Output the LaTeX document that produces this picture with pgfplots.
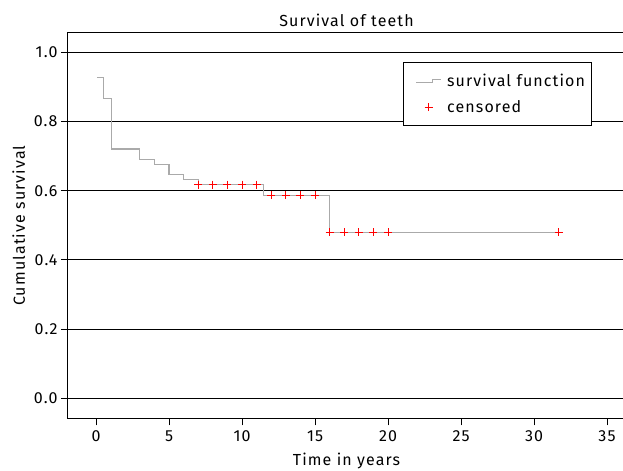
\documentclass[border=0pt]{standalone}
\usepackage{fontspec}
\setmainfont{Fira Sans}[LetterSpace=7]
\usepackage{pgfplots}
\pgfplotsset{compat=1.18}
\definecolor{survgray}{RGB}{170,170,170}
\begin{document}
\begin{tikzpicture}
\begin{axis}[
  scale only axis,
  width=557pt, height=385.3pt,
  xmin=-1.92, xmax=36.23,
  ymin=-0.058, ymax=1.056,
  font=\fontsize{16}{19}\selectfont,
  /pgf/number format/assume math mode=true,
  xtick={0,5,...,35},
  ytick={0,0.2,0.4,0.6,0.8,1.0},
  yticklabel style={/pgf/number format/fixed, /pgf/number format/fixed zerofill, /pgf/number format/precision=1},
  xticklabel style={yshift=-1.5pt},
  tick align=outside,
  major tick length=7pt,
  tick style={black, line width=0.9pt},
  xtick pos=bottom, ytick pos=left,
  axis line style={black, line width=1pt},
  ymajorgrids,
  grid style={black, line width=0.9pt},
  title={Survival of teeth},
  title style={yshift=-3pt},
  xlabel={Time in years},
  ylabel={Cumulative survival},
  xlabel style={yshift=-5pt},
  ylabel style={yshift=2pt},
  legend style={at={(rel axis cs:0.601,0.925)}, anchor=north west, draw=black, line width=0.8pt, fill=white,
    font=\fontsize{16}{19}\selectfont, inner xsep=4pt, inner ysep=10pt, row sep=8pt},
  legend cell align=left,
]
\addplot[survgray, line width=1.1pt, const plot, forget plot] coordinates {
(0.05,0.927) (0.5,0.867) (1.03,0.7205) (3,0.691) (4,0.676) (5,0.647) (6,0.633) (7,0.6176) (11.5,0.5867) (16,0.4798) (31.7,0.4798)
};
\addlegendimage{survgray, line width=1pt, legend image code/.code={\path (-0.3cm,0) (1.0cm,0); \draw[survgray, line width=1pt] (0cm,-0.06cm) -- (0.58cm,-0.06cm) -- (0.58cm,0.06cm) -- (0.88cm,0.06cm);}}
\addlegendentry{survival function}
\addplot[only marks, mark=+, red, mark size=4pt, line width=0.9pt,
  legend image code/.code={\path (-0.3cm,0) (1.0cm,0); \draw[red, line width=0.9pt] (0.44cm,-4pt) -- (0.44cm,4pt) (0.44cm,0) ++(-4pt,0) -- ++(8pt,0);}] coordinates {
(7,0.6176) (8,0.6176) (9,0.6176) (10,0.6176) (11,0.6176)
(12,0.5867) (13,0.5867) (14,0.5867) (15,0.5867)
(16,0.4798) (17,0.4798) (18,0.4798) (19,0.4798) (20,0.4798) (31.7,0.4798)
};
\addlegendentry{censored\rule[-10pt]{0pt}{10pt}}
\end{axis}
\pgfresetboundingbox
\path[use as bounding box] ([xshift=-68pt,yshift=-52pt]current axis.south west) rectangle ([xshift=-2pt,yshift=33pt]current axis.north east);
\end{tikzpicture}
\end{document}
